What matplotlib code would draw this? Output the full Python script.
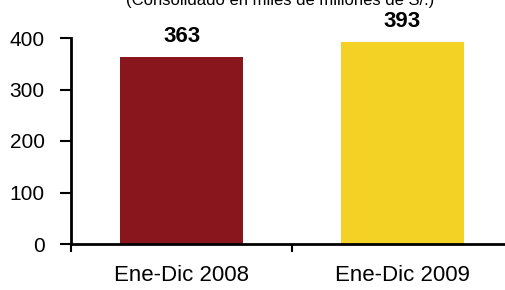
import numpy as np
import matplotlib
matplotlib.use("Agg")
import matplotlib.pyplot as plt

plt.rcParams['font.family'] = ['Liberation Sans', 'DejaVu Sans']

categories = ["Ene-Dic 2008", "Ene-Dic 2009"]
values = [363, 393]
colors = ["#88161C", "#F4D125"]
subtitle = "(Consolidado en miles de millones de S/.)"

fig = plt.figure(figsize=(5.05, 2.9), dpi=100)
ax = fig.add_axes([71/505, 46/290, 442/505, 206/290])

x = np.arange(len(categories))
bars = ax.bar(x, values, width=0.56, color=colors)

for xi, v in zip(x, values):
    ax.annotate(str(v), (xi, v), xytext=(0, 7), textcoords="offset points",
                ha="center", va="bottom", fontsize=16, fontweight="bold")

ax.set_xlim(-0.5, 1.5)
ax.set_ylim(0, 400)
ax.set_yticks([0, 100, 200, 300, 400])
ax.set_xticks([-0.5, 0.5, 1.5])
ax.set_xticklabels([])
ax.set_xticks(x, minor=True)
ax.set_xticklabels(categories, minor=True)
ax.tick_params(axis="x", which="minor", length=0, pad=15, labelsize=16)
ax.tick_params(axis="x", which="major", length=6, width=1.5, direction="out")
ax.tick_params(axis="y", length=8, width=1.5, pad=11, labelsize=15)

for s in ["top", "right"]:
    ax.spines[s].set_visible(False)
for s in ["left", "bottom"]:
    ax.spines[s].set_linewidth(2)

fig.text(0.555, 1.0 - 1/290, subtitle, ha="center", va="center", fontsize=12)

fig.savefig("out.png", dpi=100)
